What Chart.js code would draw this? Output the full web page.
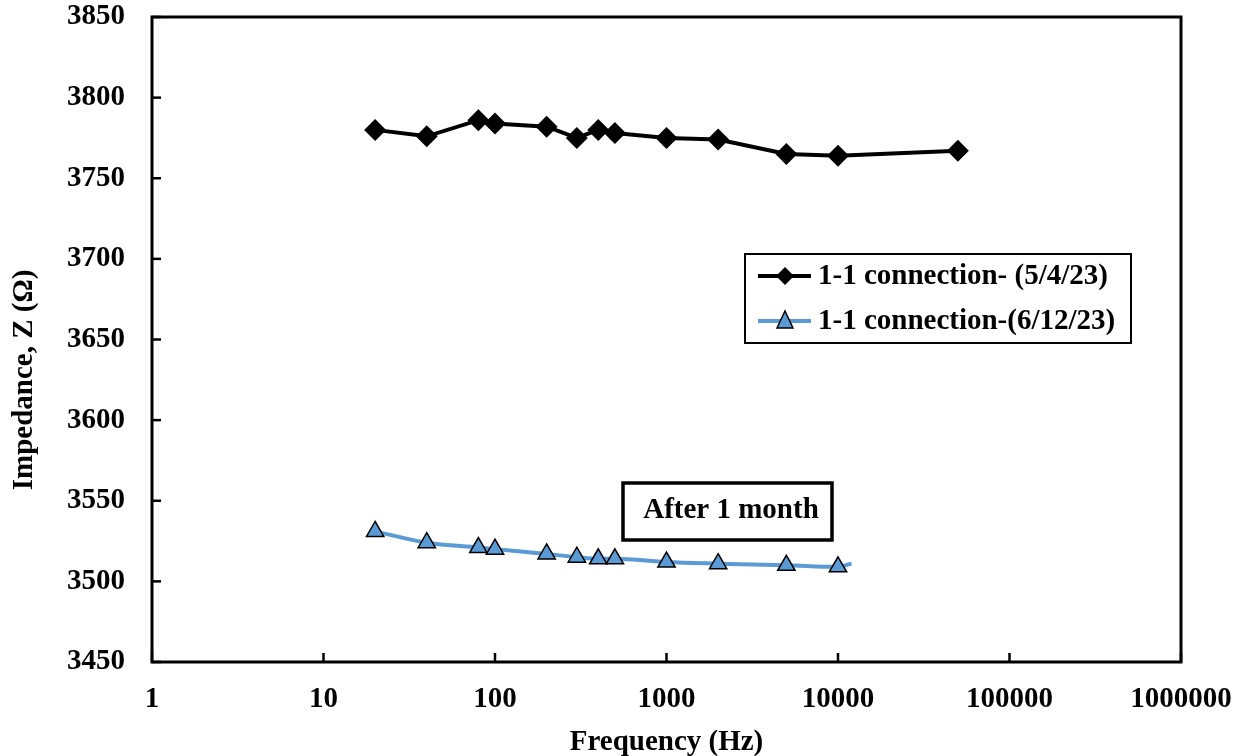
<!DOCTYPE html>
<html>
<head>
<meta charset="utf-8">
<script src="https://cdn.jsdelivr.net/npm/chart.js@4.4.0/dist/chart.umd.min.js"></script>
<style>
  body { margin: 0; background: #fff; }
</style>
</head>
<body>
<canvas id="myChart" width="1241" height="756"></canvas>
<script>
// frequencies (Hz) and impedance readings
const freqFirst = [20, 40, 80, 100, 200, 300, 400, 500, 1000, 2000, 5000, 10000, 50000];
const zFirst = [3780, 3776, 3786, 3784, 3782, 3775, 3780, 3778, 3775, 3774, 3765, 3764, 3767];

const freqSecond = [20, 40, 80, 100, 200, 300, 400, 500, 1000, 2000, 5000, 10000, 12000];
const zSecond = [3531, 3524, 3521, 3520, 3517, 3515, 3514, 3514, 3512, 3511, 3510, 3509, 3511];

const xTicks = [1, 10, 100, 1000, 10000, 100000, 1000000];
const yTicks = [3450, 3500, 3550, 3600, 3650, 3700, 3750, 3800, 3850];

const seriesNames = ["1-1 connection- (5/4/23)", "1-1 connection-(6/12/23)"];
const noteText = "After 1 month";
const yTitle = "Impedance, Z (Ω)";

const FONT = "'Liberation Serif', 'Times New Roman', serif";
const FSIZE = 29;
const BLUE = "#5B9BD5";

const toPoints = (xs, ys) => xs.map((x, i) => ({ x: x, y: ys[i] }));

// inward tick marks, frame, y title, legend box and note box
const decorations = {
  id: "decorations",
  afterDraw(chart) {
    const ctx = chart.ctx;
    const a = chart.chartArea;
    const xs = chart.scales.x;
    const ys = chart.scales.y;
    ctx.save();
    ctx.strokeStyle = "#000";
    ctx.lineWidth = 3;
    ctx.strokeRect(a.left, a.top, a.right - a.left, a.bottom - a.top);

    ctx.lineWidth = 2.5;
    yTicks.forEach((v) => {
      const py = ys.getPixelForValue(v);
      ctx.beginPath();
      ctx.moveTo(a.left, py);
      ctx.lineTo(a.left + 9, py);
      ctx.stroke();
    });
    xTicks.forEach((v) => {
      const px = xs.getPixelForValue(v);
      ctx.beginPath();
      ctx.moveTo(px, a.bottom);
      ctx.lineTo(px, a.bottom - 9);
      ctx.stroke();
    });

    ctx.font = "bold " + FSIZE + "px " + FONT;
    ctx.textBaseline = "middle";
    ctx.fillStyle = "#000";

    // y axis title
    ctx.save();
    ctx.translate(25, 380);
    ctx.rotate(-Math.PI / 2);
    ctx.textAlign = "center";
    ctx.fillText(yTitle, 0, 0);
    ctx.restore();

    // legend
    ctx.lineWidth = 2;
    ctx.strokeRect(745, 254, 386, 89);
    ctx.textAlign = "left";

    let ly = 276;
    ctx.lineWidth = 4;
    ctx.beginPath();
    ctx.moveTo(758, ly);
    ctx.lineTo(811, ly);
    ctx.stroke();
    ctx.beginPath();
    ctx.moveTo(785, ly - 9);
    ctx.lineTo(794, ly);
    ctx.lineTo(785, ly + 9);
    ctx.lineTo(776, ly);
    ctx.closePath();
    ctx.fill();
    ctx.fillText(seriesNames[0], 818, ly + 1);

    ly = 321;
    ctx.strokeStyle = BLUE;
    ctx.lineWidth = 4;
    ctx.beginPath();
    ctx.moveTo(758, ly);
    ctx.lineTo(811, ly);
    ctx.stroke();
    ctx.beginPath();
    ctx.moveTo(785, ly - 10);
    ctx.lineTo(793, ly + 7);
    ctx.lineTo(777, ly + 7);
    ctx.closePath();
    ctx.fillStyle = BLUE;
    ctx.fill();
    ctx.strokeStyle = "#000";
    ctx.lineWidth = 1.5;
    ctx.stroke();
    ctx.fillStyle = "#000";
    ctx.fillText(seriesNames[1], 818, ly + 1);

    // note box
    ctx.lineWidth = 3.5;
    ctx.strokeRect(623, 483, 209, 57);
    ctx.textAlign = "center";
    ctx.fillText(noteText, 731, 511);
    ctx.restore();
  }
};

const config = {
  type: "line",
  data: {
    datasets: [
      {
        label: seriesNames[0],
        data: toPoints(freqFirst, zFirst),
        borderColor: "#000",
        backgroundColor: "#000",
        borderWidth: 4,
        pointStyle: "rectRot",
        pointRadius: 11,
        pointBorderWidth: 0,
        tension: 0,
      },
      {
        label: seriesNames[1],
        data: toPoints(freqSecond, zSecond),
        borderColor: BLUE,
        backgroundColor: BLUE,
        borderWidth: 4,
        pointStyle: "triangle",
        pointRadius: freqSecond.map((f, i) => (i === freqSecond.length - 1 ? 0 : 10)),
        pointBorderColor: "#000",
        pointBorderWidth: 1.5,
        cubicInterpolationMode: "monotone",
      },
    ],
  },
  options: {
    responsive: false,
    animation: false,
    layout: { padding: { top: 17, right: 60, left: 0, bottom: 0 } },
    plugins: {
      legend: { display: false },
      tooltip: { enabled: false },
    },
    scales: {
      x: {
        type: "logarithmic",
        min: 1,
        max: 1000000,
        afterBuildTicks: (scale) => {
          scale.ticks = xTicks.map((v) => ({ value: v }));
        },
        afterFit: (scale) => {
          scale.height = 94;
          scale.paddingLeft = 0;
          scale.paddingRight = 0;
        },
        grid: { display: false },
        border: { display: false },
        ticks: {
          color: "#000",
          padding: 12,
          maxRotation: 0,
          font: { family: FONT, size: FSIZE, weight: "bold" },
          callback: (v) => String(v),
        },
        title: {
          display: true,
          text: "Frequency (Hz)",
          color: "#000",
          padding: { top: 0, bottom: -4 },
          font: { family: FONT, size: FSIZE, weight: "bold" },
        },
      },
      y: {
        min: 3450,
        max: 3850,
        afterBuildTicks: (scale) => {
          scale.ticks = yTicks.map((v) => ({ value: v }));
        },
        afterFit: (scale) => {
          scale.width = 152;
          scale.paddingTop = 0;
          scale.paddingBottom = 0;
        },
        grid: { display: false },
        border: { display: false },
        ticks: {
          color: "#000",
          padding: 19,
          font: { family: FONT, size: FSIZE, weight: "bold" },
          callback: (v) => String(v),
        },
      },
    },
  },
  plugins: [decorations],
};

const myChart = new Chart(document.getElementById("myChart"), config);
</script>
</body>
</html>
